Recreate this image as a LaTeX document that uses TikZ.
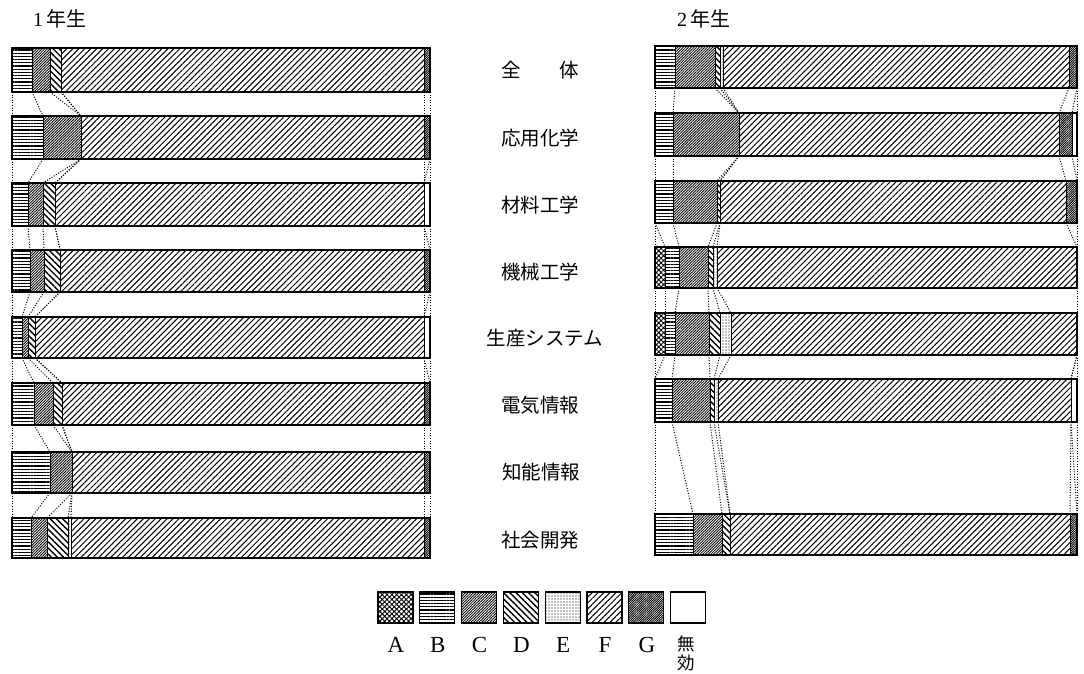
\documentclass[tikz,border=0pt]{standalone}
\usepackage{fontspec}
\setmainfont{Liberation Serif}
\newfontfamily\jp{Noto Sans CJK JP}
\usetikzlibrary{patterns.meta}
\tikzset{
 pA/.style={pattern={Hatch[angle=45,distance=3.4pt,line width=0.9pt]}},
 pB/.style={pattern={Lines[angle=0,distance=3.2pt,line width=1.1pt]}},
 pC/.style={pattern={Lines[angle=45,distance=1.9pt,line width=0.85pt]}},
 pD/.style={pattern={Lines[angle=-45,distance=4.4pt,line width=1.4pt]}},
 pE/.style={pattern={Dots[distance=3pt,radius=0.55pt]}},
 pF/.style={pattern={Lines[angle=45,distance=4.2pt,line width=1pt]}},
 pG/.style={pattern={Lines[angle=45,distance=1.6pt,line width=0.9pt]}},
 pN/.style={fill=white},
 barframe/.style={line width=1.2pt},
 divider/.style={line width=1pt},
 conn/.style={line width=1pt, dash pattern=on 1pt off 1.6pt},
 rowlabel/.style={font=\jp\fontsize{19.5}{20}\selectfont, inner sep=0pt},
 title/.style={font=\fontsize{20}{21}\selectfont, inner sep=0pt, anchor=west},
 legbox/.style={line width=1.1pt},
 leglabel/.style={font=\fontsize{23}{23}\selectfont, inner sep=0pt},
}
\begin{document}
\begin{tikzpicture}[x=1pt,y=-1pt]
\fill[white] (0,0) rectangle (1084,674);
\useasboundingbox (0,0) rectangle (1084,674);

% titles
\node[title] (t1) at (33,19) {1\,{\jp 年生}};
\node[title] (t2) at (677,19) {2\,{\jp 年生}};

% bars
\foreach \s/\n/\t/\u/\l/\a/\b/\c/\d/\e/\f/\g/\r in {
 L/1/48/92/12/12/32/50/61/61/424/430/430,
 L/2/116/159/12/12/43/81/81/81/424/430/430,
 L/3/183/226/12/12/28/43/55/55/424/424/430,
 L/4/250/292/12/12/30/44/60/60/424/430/430,
 L/5/317/358/12/12/22/28/35/35/424/424/430,
 L/6/383/425/12/12/34/53/62/62/424/430/430,
 L/7/452/493/12/12/50/72/72/72/424/430/430,
 L/8/518/558/12/12/31/47/68/71/424/430/430,
 R/1/46/88/655/655/675/715/720/723/1069/1077/1077,
 R/2/113/156/655/655/673/739/739/739/1059/1072/1077,
 R/3/181/223/655/655/673/717/720/720/1066/1077/1077,
 R/4/247/288/655/665/679/708/713/717/1077/1077/1077,
 R/5/313/355/655/665/675/709/720/731/1077/1077/1077,
 R/6/379/422/655/655/672/710/714/718/1071/1071/1077,
 R/8/514/555/655/655/693/722/730/730/1070/1077/1077}
{
 \fill[pA] (\l,\t) rectangle (\a,\u);
 \fill[pB] (\a,\t) rectangle (\b,\u);
 \fill[pC] (\b,\t) rectangle (\c,\u);
 \fill[pD] (\c,\t) rectangle (\d,\u);
 \fill[pE] (\d,\t) rectangle (\e,\u);
 \fill[pF] (\e,\t) rectangle (\f,\u);
 \fill[pG] (\f,\t) rectangle (\g,\u);
 \fill[pN] (\g,\t) rectangle (\r,\u);
 \foreach \x in {\a,\b,\c,\d,\e,\f,\g} \draw[divider] (\x,\t) -- (\x,\u);
 \draw[barframe] (\l,\t) rectangle (\r,\u);
 \foreach \k/\x in {l/\l,a/\a,b/\b,c/\c,d/\d,e/\e,f/\f,g/\g,r/\r} {
   \coordinate (\s\n-\k-top) at (\x,\t);
   \coordinate (\s\n-\k-bot) at (\x,\u);
 }
}

% dotted connectors
\foreach \i/\j in {1/2,2/3,3/4,4/5,5/6,6/7,7/8}
 \foreach \k in {l,a,b,c,d,e,f,g,r}
  \draw[conn] (L\i-\k-bot) -- (L\j-\k-top);
\foreach \i/\j in {1/2,2/3,3/4,4/5,5/6,6/8}
 \foreach \k in {l,a,b,c,d,e,f,g,r}
  \draw[conn] (R\i-\k-bot) -- (R\j-\k-top);

% row labels
\node[rowlabel] (lab1) at (540,70) {全\hspace{2em}体};
\node[rowlabel] (lab2) at (540,138) {応用化学};
\node[rowlabel] (lab3) at (540,205) {材料工学};
\node[rowlabel] (lab4) at (540,272) {機械工学};
\node[rowlabel] (lab5) at (545,338) {生産システム};
\node[rowlabel] (lab6) at (540,405) {電気情報};
\node[rowlabel] (lab7) at (541,472) {知能情報};
\node[rowlabel] (lab8) at (540,540) {社会開発};

% legend
\foreach \k/\p [count=\i from 0] in {A/pA,B/pB,C/pC,D/pD,E/pE,F/pF,G/pG,N/pN} {
  \draw[\p,legbox] (378+41.8*\i,592) rectangle ++(35,31);
}
\foreach \k [count=\i from 0] in {A,B,C,D,E,F,G}
  \node[leglabel] (leg\k) at (396+41.8*\i,645) {\k};
\node[font=\jp\fontsize{17.5}{18.5}\selectfont, inner sep=0pt, align=center, anchor=north] (legN) at (686,636) {無\\効};
\end{tikzpicture}
\end{document}
